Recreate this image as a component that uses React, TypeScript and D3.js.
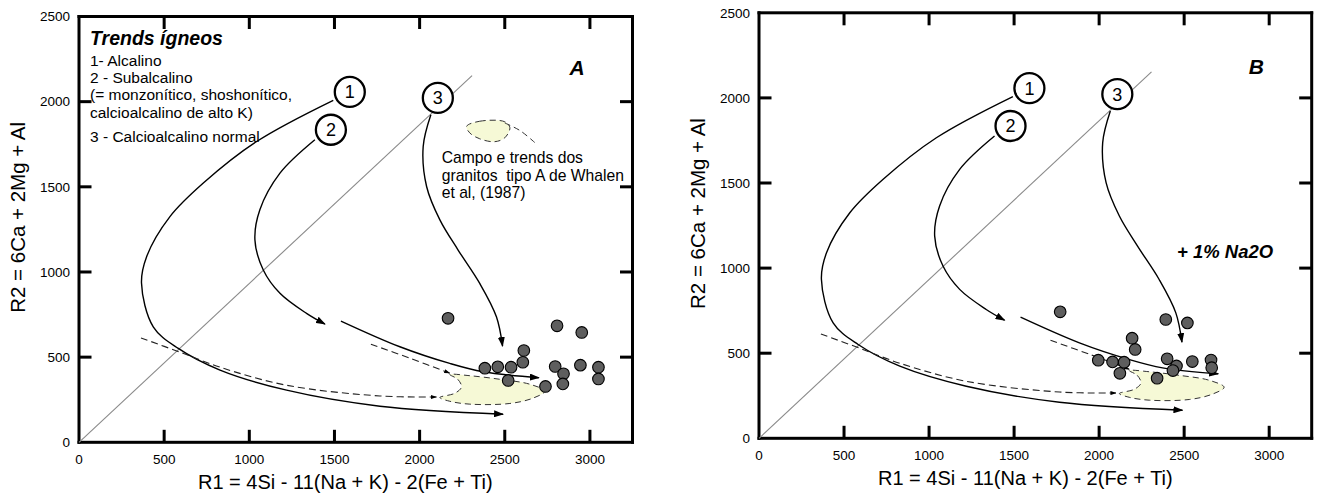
import React from 'react';
import * as d3 from 'd3';

type P = [number, number];

const xTicks = [0, 500, 1000, 1500, 2000, 2500, 3000];
const yTicks = [0, 500, 1000, 1500, 2000, 2500];
const xMax = 3250;
const yMax = 2500;

// Samples, panel A (R1, R2)
const pointsA: P[] = [
  [2167, 728], [2807, 684], [2952, 645], [2612, 539], [2606, 470], [2383, 435],
  [2459, 443], [2537, 441], [2520, 363], [2796, 445], [2845, 402], [2841, 343],
  [2739, 328], [2944, 453], [3050, 441], [3050, 372],
];

// Samples, panel B (+1% Na2O)
const pointsB: P[] = [
  [1771, 743], [2392, 698], [2519, 678], [2194, 588], [2212, 522], [1995, 459],
  [2079, 449], [2147, 447], [2122, 382], [2400, 467], [2455, 425], [2434, 398],
  [2341, 353], [2548, 451], [2658, 460], [2662, 415],
];

// Igneous trends (shared by both panels)
const trend1: P[] = [
  [1493, 2008], [1043, 1766], [730, 1522], [534, 1325], [397, 1090], [367, 935],
  [436, 678], [583, 551], [828, 424], [1219, 306], [1767, 212], [2490, 165],
];
const trend2a: P[] = [
  [1385, 1776], [1180, 1580], [1062, 1365], [1033, 1188], [1082, 1012],
  [1180, 875], [1336, 757], [1444, 694],
];
const trend2b: P[] = [
  [1538, 712], [1884, 561], [2177, 463], [2373, 414], [2700, 379],
];
const trend3: P[] = [
  [2066, 1923], [2021, 1737], [2041, 1502], [2119, 1306], [2226, 1129],
  [2353, 933], [2451, 737], [2487, 565],
];
const dashedUpper: P[] = [[1714, 576], [1942, 494], [2177, 406]];
const dashedLower: P[] = [
  [364, 613], [593, 529], [828, 441], [1219, 335], [1767, 272], [2099, 266],
];
const fieldA: P[] = [
  [2177, 398], [2224, 370], [2246, 325], [2207, 288], [2119, 263], [2177, 241],
  [2295, 224], [2530, 228], [2665, 259], [2735, 300], [2647, 341], [2471, 370],
  [2295, 391],
];
const whalenField: P[] = [
  [2276, 1855], [2353, 1885], [2500, 1882], [2530, 1847], [2500, 1788],
  [2441, 1765], [2353, 1782], [2294, 1817],
];
const whalenTail: P[] = [[2500, 1875], [2590, 1830], [2676, 1760]];
const refLine: P[] = [[0, 0], [2308, 2153]];
const circleLabels = [
  { n: '1', x: 1590, y: 2057 },
  { n: '2', x: 1479, y: 1835 },
  { n: '3', x: 2107, y: 2022 },
];

const legendTitle = 'Trends ígneos';
const legendLines = [
  '1- Alcalino',
  '2 - Subalcalino',
  '(= monzonítico, shoshonítico,',
  'calcioalcalino de alto K)',
  '3 - Calcioalcalino normal',
];
const whalenLines = ['Campo e trends dos', 'granitos  tipo A de Whalen', 'et al, (1987)'];
const xTitle = 'R1 = 4Si - 11(Na + K) - 2(Fe + Ti)';
const yTitle = 'R2 = 6Ca + 2Mg + Al';

const FONT = '"Liberation Sans", Arial, sans-serif';

type PanelProps = {
  left: number; right: number; top: number; bottom: number;
  points: P[]; letter: string; letterY: number; isA: boolean;
};

function Panel({ left, right, top, bottom, points, letter, letterY, isA }: PanelProps) {
  const x = d3.scaleLinear().domain([0, xMax]).range([left, right]);
  const y = d3.scaleLinear().domain([0, yMax]).range([bottom, top]);
  const smooth = d3.line<P>().x(d => x(d[0])).y(d => y(d[1])).curve(d3.curveCatmullRom.alpha(0.5));
  const closed = d3.line<P>().x(d => x(d[0])).y(d => y(d[1])).curve(d3.curveCatmullRomClosed.alpha(0.5));
  const straight = d3.line<P>().x(d => x(d[0])).y(d => y(d[1]));
  const tl = 12.5;
  const aw = 3; // frame / tick thickness
  const legendBase = [66, 82.5, 99.5, 117.5, 141.5];

  const xt = xTicks.filter(t => t > 0);
  const yt = yTicks.filter(t => t > 0 && t < yMax);

  return (
    <g>
      {/* frame drawn as filled bars */}
      <g fill="#000" stroke="none">
        <rect x={left - aw / 2} y={top - aw / 2} width={right - left + aw} height={aw} />
        <rect x={left - aw / 2} y={bottom - aw / 2} width={right - left + aw} height={aw} />
        <rect x={left - aw / 2} y={top - aw / 2} width={aw} height={bottom - top + aw} />
        <rect x={right - aw / 2} y={top - aw / 2} width={aw} height={bottom - top + aw} />
        {xt.map(t => (
          <rect key={'xb' + t} x={x(t) - aw / 2} y={bottom - tl} width={aw} height={tl} />
        ))}
        {xt.map(t => (
          <rect key={'xtp' + t} x={x(t) - aw / 2} y={top} width={aw} height={tl} />
        ))}
        {yt.map(t => (
          <rect key={'yl' + t} x={left} y={y(t) - aw / 2} width={tl} height={aw} />
        ))}
        {yt.map(t => (
          <rect key={'yr' + t} x={right - tl} y={y(t) - aw / 2} width={tl} height={aw} />
        ))}
      </g>
      {xTicks.map(t => (
        <text key={'xl' + t} x={x(t)} y={bottom + 22} textAnchor="middle" fontFamily={FONT} fontSize={13.5} fill="#000">{t}</text>
      ))}
      {yTicks.map(t => (
        <text key={'yl' + t} x={left - 9} y={y(t)} dy="0.35em" textAnchor="end" fontFamily={FONT} fontSize={13.5} fill="#000">{t}</text>
      ))}
      <text x={left + 119} y={bottom + 47} fontFamily={FONT} fontSize={20} fill="#000">{xTitle}</text>
      <text transform={`translate(${left - 54},${(top + bottom) / 2 - 12}) rotate(-90)`} textAnchor="middle" fontFamily={FONT} fontSize={20.5} fill="#000">{yTitle}</text>

      {/* reference line */}
      <path d={straight(refLine) || ''} stroke="#8a8a8a" strokeWidth={1.1} fill="none" />

      {/* fields */}
      <path d={closed(fieldA) || ''} fill="#f6f9d6" stroke="#333" strokeWidth={1} strokeDasharray="6,4" />
      {isA && (
        <g>
          <path d={closed(whalenField) || ''} fill="#f6f9d6" stroke="#333" strokeWidth={1} strokeDasharray="6,4" />
          <path d={smooth(whalenTail) || ''} fill="none" stroke="#333" strokeWidth={1} strokeDasharray="6,4" />
        </g>
      )}

      {/* trends */}
      <path d={smooth(trend1) || ''} fill="none" stroke="#000" strokeWidth={1.4} markerEnd="url(#arrowBig)" />
      <path d={smooth(trend2a) || ''} fill="none" stroke="#000" strokeWidth={1.4} markerEnd="url(#arrowBig)" />
      <path d={smooth(trend2b) || ''} fill="none" stroke="#000" strokeWidth={1.4} markerEnd="url(#arrowBig)" />
      <path d={smooth(trend3) || ''} fill="none" stroke="#000" strokeWidth={1.4} markerEnd="url(#arrowBig)" />
      <path d={smooth(dashedUpper) || ''} fill="none" stroke="#222" strokeWidth={1.1} strokeDasharray="7,4" markerEnd="url(#arrowSmall)" />
      <path d={smooth(dashedLower) || ''} fill="none" stroke="#222" strokeWidth={1.1} strokeDasharray="7,4" markerEnd="url(#arrowSmall)" />

      {circleLabels.map(c => (
        <g key={'c' + c.n}>
          <circle cx={x(c.x)} cy={y(c.y)} r={15} fill="#fff" stroke="#000" strokeWidth={2.3} />
          <text x={x(c.x)} y={y(c.y)} dy="0.36em" textAnchor="middle" fontFamily={FONT} fontSize={18} fill="#000">{c.n}</text>
        </g>
      ))}

      {/* samples */}
      {points.map((p, i) => (
        <circle key={'p' + i} cx={x(p[0])} cy={y(p[1])} r={5.8} fill="#5e5e5e" stroke="#000" strokeWidth={1.1} />
      ))}

      {/* panel letter */}
      <text x={right - 63} y={letterY} fontFamily={FONT} fontSize={21} fontWeight="bold" fontStyle="italic" fill="#000">{letter}</text>

      {isA ? (
        <g fontFamily={FONT} fill="#000">
          <text x={left + 11} y={45} fontSize={19.5} fontWeight="bold" fontStyle="italic">{legendTitle}</text>
          {legendLines.map((s, i) => (
            <text key={'lg' + i} x={left + 11} y={legendBase[i]} fontSize={15.5}>{s}</text>
          ))}
          {whalenLines.map((s, i) => (
            <text key={'wh' + i} x={441.7} y={163 + i * 17.5} fontSize={15.7} style={{ whiteSpace: 'pre' }}>{s}</text>
          ))}
        </g>
      ) : (
        <text x={1177} y={258} fontFamily={FONT} fontSize={18.5} fontWeight="bold" fontStyle="italic" fill="#000">+ 1% Na2O</text>
      )}
    </g>
  );
}

export default function App() {
  return (
    <svg width={1319} height={497} viewBox="0 0 1319 497" style={{ position: 'absolute', left: 0, top: 0, background: '#fff' }}>
      <defs>
        <marker id="arrowBig" viewBox="0 0 10 7" refX={9} refY={3.5} markerWidth={10} markerHeight={7} markerUnits="userSpaceOnUse" orient="auto">
          <path d="M0,0 L10,3.5 L0,7 z" fill="#000" />
        </marker>
        <marker id="arrowSmall" viewBox="0 0 6 4" refX={5.5} refY={2} markerWidth={6} markerHeight={4} markerUnits="userSpaceOnUse" orient="auto">
          <path d="M0,0 L6,2 L0,4 z" fill="#000" />
        </marker>
      </defs>
      <rect x={0} y={0} width={1319} height={497} fill="#fff" />
      <Panel left={79} right={632.5} top={16.5} bottom={442.3} points={pointsA} letter="A" letterY={75} isA={true} />
      <Panel left={759} right={1311.7} top={12.8} bottom={438.3} points={pointsB} letter="B" letterY={74} isA={false} />
    </svg>
  );
}
